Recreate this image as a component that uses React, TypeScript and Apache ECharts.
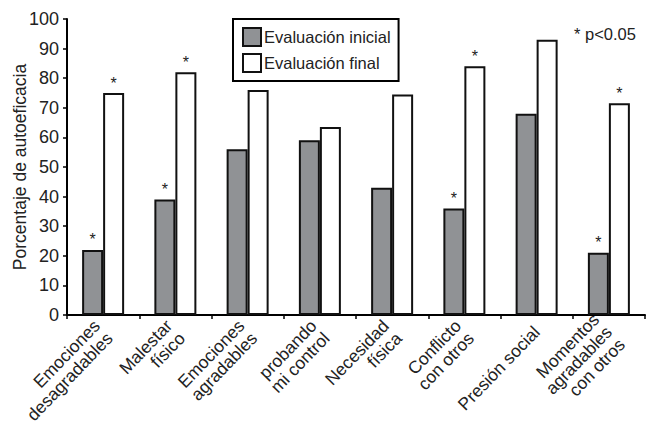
import React, { useEffect, useRef } from "react";
import * as echarts from "echarts";

const categories = [
  "Emociones\ndesagradables",
  "Malestar\nfísico",
  "Emociones\nagradables",
  "probando\nmi control",
  "Necesidad\nfísica",
  "Conflicto\ncon otros",
  "Presión social",
  "Momentos\nagradables\ncon otros",
];
const inicial = [22, 39, 56, 59, 43, 36, 68, 21];
const final = [75, 82, 76, 63.5, 74.5, 84, 93, 71.5];
const significant = [true, true, false, false, false, true, false, true];
const yTicks = { min: 0, max: 100, interval: 10 };

const FONT = "Liberation Sans, Arial, sans-serif";

export default function App() {
  const ref = useRef<HTMLDivElement>(null);
  useEffect(() => {
    if (!ref.current) return;
    const chart = echarts.init(ref.current, undefined, { renderer: "svg" });
    const mk = (vals: number[]) =>
      vals.map((v, i) => ({
        value: v,
        label: { show: significant[i] },
      }));
    const starLabel = {
      position: "top" as const,
      formatter: "*",
      color: "#222",
      fontSize: 16,
      fontFamily: FONT,
      distance: 2,
    };
    chart.setOption({
      animation: false,
      backgroundColor: "#fff",
      textStyle: { fontFamily: FONT },
      grid: {
        left: 67,
        right: 1,
        top: 19,
        bottom: 109,
        containLabel: false,
        outerBoundsMode: "none",
      },
      legend: {
        left: 233,
        top: 19,
        orient: "vertical",
        borderColor: "#000",
        borderWidth: 2,
        padding: [8, 8, 8, 9],
        itemWidth: 18,
        itemHeight: 18,
        itemGap: 6,
        textStyle: { fontSize: 16.5, color: "#222", fontFamily: FONT, padding: [0, 0, 0, -2] },
        data: [
          { name: "Evaluación inicial", icon: "rect" },
          { name: "Evaluación final", icon: "rect" },
        ],
      },
      graphic: [
        {
          type: "text",
          left: 574,
          top: 25,
          style: { text: "* p<0.05", fontSize: 16.5, fill: "#222", fontFamily: FONT },
        },
      ],
      xAxis: {
        type: "category",
        data: categories,
        axisLine: { lineStyle: { color: "#000", width: 2 } },
        axisTick: { show: true, length: 4, alignWithLabel: false, lineStyle: { color: "#000", width: 1.5 } },
        axisLabel: {
          rotate: 46,
          interval: 0,
          fontSize: 17.5,
          color: "#222",
          fontFamily: FONT,
          lineHeight: 18,
          margin: 14,
          hideOverlap: false,
        },
      },
      yAxis: {
        type: "value",
        min: yTicks.min,
        max: yTicks.max,
        interval: yTicks.interval,
        name: "Porcentaje de autoeficacia",
        nameLocation: "middle",
        nameGap: 38,
        nameMoveOverlap: false,
        nameTextStyle: { fontSize: 17.5, color: "#222", fontFamily: FONT },
        splitLine: { show: false },
        axisLine: { show: true, lineStyle: { color: "#000", width: 2 } },
        axisTick: { show: true, length: 4, lineStyle: { color: "#000", width: 1.5 } },
        axisLabel: { fontSize: 18, color: "#222", fontFamily: FONT, margin: 8 },
      },
      series: [
        {
          name: "Evaluación inicial",
          type: "bar",
          data: mk(inicial),
          barWidth: 21,
          barGap: "0%",
          itemStyle: { color: "#909295", borderColor: "#111", borderWidth: 2 },
          label: starLabel,
        },
        {
          name: "Evaluación final",
          type: "bar",
          data: mk(final),
          barWidth: 21,
          barGap: "0%",
          itemStyle: { color: "#fff", borderColor: "#111", borderWidth: 2 },
          label: starLabel,
        },
      ],
    });
    return () => chart.dispose();
  }, []);
  return <div ref={ref} style={{ width: 646, height: 424, position: "absolute", left: 0, top: 0 }} />;
}
